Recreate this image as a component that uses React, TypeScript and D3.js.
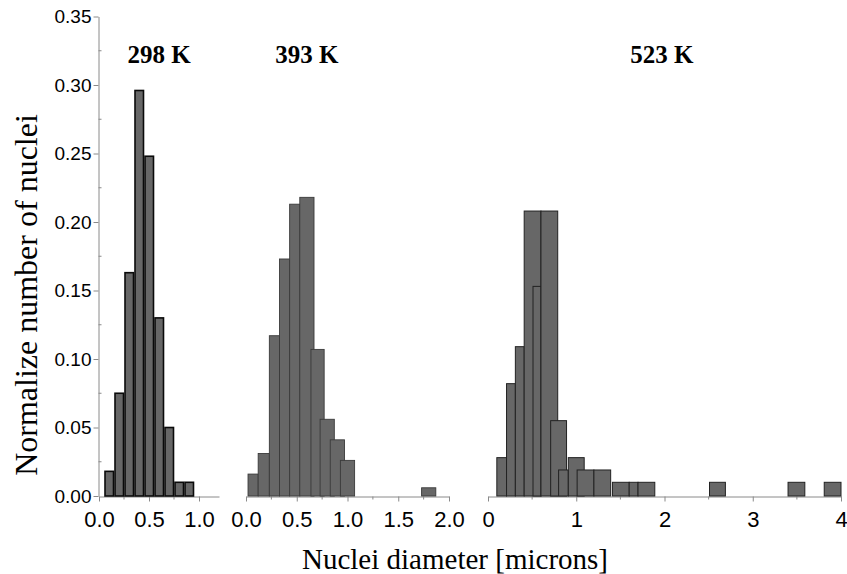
import { useEffect, useRef } from "react";
import * as d3 from "d3";

// 298 K histogram: bin centres (microns) and normalized counts
const p1Centers = [0.1, 0.2, 0.3, 0.4, 0.5, 0.6, 0.7, 0.8, 0.9];
const p1Values = [0.018, 0.075, 0.163, 0.296, 0.248, 0.13, 0.05, 0.01, 0.01];

// 393 K histogram: bin edges and values (bins overlap a bit in the original)
const p2Lo = [0.02, 0.12, 0.23, 0.33, 0.43, 0.53, 0.64, 0.73, 0.83, 0.93, 1.73];
const p2Hi = [0.12, 0.23, 0.33, 0.43, 0.53, 0.67, 0.77, 0.87, 0.97, 1.07, 1.87];
const p2Values = [0.016, 0.031, 0.117, 0.173, 0.213, 0.218, 0.107, 0.056, 0.041, 0.026, 0.006];

// 523 K histogram
const p3Lo = [0.1, 0.21, 0.31, 0.41, 0.51, 0.6, 0.71, 0.8, 0.91, 1.01, 1.2, 1.41, 1.6, 1.7, 2.51, 3.4, 3.81];
const p3Hi = [0.21, 0.31, 0.41, 0.6, 0.6, 0.79, 0.89, 0.91, 1.09, 1.2, 1.39, 1.6, 1.7, 1.89, 2.69, 3.59, 4.0];
const p3Values = [0.028, 0.082, 0.109, 0.208, 0.153, 0.208, 0.055, 0.019, 0.028, 0.019, 0.019, 0.01, 0.01, 0.01, 0.01, 0.01, 0.01];

const yTicks = [0, 0.05, 0.1, 0.15, 0.2, 0.25, 0.3, 0.35];
const yMinor = [0.025, 0.075, 0.125, 0.175, 0.225, 0.275, 0.325];
const p1Ticks = [0, 0.5, 1.0];
const p1Minor = [0.25, 0.75];
const p2Ticks = [0, 0.5, 1.0, 1.5, 2.0];
const p2Minor = [0.25, 0.75, 1.25, 1.75];
const p3Ticks = [0, 1, 2, 3, 4];
const p3Minor = [0.5, 1.5, 2.5, 3.5];

const titles = ["298 K", "393 K", "523 K"];

function App() {
  const ref = useRef<SVGSVGElement>(null);
  const width = 847;
  const height = 574;

  useEffect(() => {
    const svg = d3.select(ref.current);
    svg.selectAll("*").remove();

    const sans = "'Liberation Sans', Arial, sans-serif";
    const serif = "'Liberation Serif', 'Times New Roman', serif";
    const axisColor = "#8a8a8a";
    const barFill = "#676767";

    const y = d3.scaleLinear([0, 0.35], [496, 16.5]);
    const x1 = d3.scaleLinear([0, 1.2], [99, 219]);
    const x2 = d3.scaleLinear([0, 2], [246, 449]);
    const x3 = d3.scaleLinear([0, 4], [488, 841]);

    // y axis
    const yAxis = svg.append("g")
      .attr("transform", `translate(${x1(0) - 0.5},0)`)
      .call(d3.axisLeft(y).tickValues(yTicks).tickFormat(d3.format(".2f")).tickSize(5).tickSizeOuter(0).tickPadding(2));
    yAxis.select(".domain").attr("stroke", axisColor);
    yAxis.selectAll(".tick line").attr("stroke", axisColor);
    yAxis.selectAll("text").attr("font-family", sans).attr("font-size", 19).attr("fill", "#000");
    yAxis.selectAll(".minor")
      .data(yMinor)
      .join("line")
      .attr("x1", 0).attr("x2", 3)
      .attr("y1", d => y(d)).attr("y2", d => y(d))
      .attr("stroke", axisColor);

    const drawX = (x: d3.ScaleLinear<number, number>, ticks: number[], minor: number[], fmt: string) => {
      const g = svg.append("g")
        .attr("transform", `translate(0,${y(0) + 0.5})`)
        .call(d3.axisBottom(x).tickValues(ticks).tickFormat(d3.format(fmt)).tickSize(5).tickSizeOuter(0).tickPadding(10));
      g.select(".domain").attr("stroke", axisColor);
      g.selectAll(".tick line").attr("stroke", axisColor);
      g.selectAll("text").attr("font-family", sans).attr("font-size", 22).attr("fill", "#000");
      g.selectAll(".minor")
        .data(minor)
        .join("line")
        .attr("x1", d => x(d)).attr("x2", d => x(d))
        .attr("y1", 0).attr("y2", 3)
        .attr("stroke", axisColor);
    };
    drawX(x1, p1Ticks, p1Minor, ".1f");
    drawX(x2, p2Ticks, p2Minor, ".1f");
    drawX(x3, p3Ticks, p3Minor, "d");

    // 298 K bars, heavy black outline
    svg.append("g")
      .selectAll("rect")
      .data(p1Centers)
      .join("rect")
      .attr("x", d => x1(d - 0.05) + 1)
      .attr("width", d => x1(d + 0.05) - x1(d - 0.05) - 1.5)
      .attr("y", (d, i) => y(p1Values[i]))
      .attr("height", (d, i) => y(0) - y(p1Values[i]))
      .attr("fill", barFill)
      .attr("stroke", "#0a0a0a")
      .attr("stroke-width", 1.6);

    // 393 K bars
    svg.append("g")
      .selectAll("rect")
      .data(p2Lo)
      .join("rect")
      .attr("x", d => x2(d))
      .attr("width", (d, i) => x2(p2Hi[i]) - x2(d))
      .attr("y", (d, i) => y(p2Values[i]))
      .attr("height", (d, i) => y(0) - y(p2Values[i]))
      .attr("fill", barFill)
      .attr("stroke", "#3a3a3a")
      .attr("stroke-width", 0.9);

    // 523 K bars
    svg.append("g")
      .selectAll("rect")
      .data(p3Lo)
      .join("rect")
      .attr("x", d => x3(d))
      .attr("width", (d, i) => x3(p3Hi[i]) - x3(d))
      .attr("y", (d, i) => y(p3Values[i]))
      .attr("height", (d, i) => y(0) - y(p3Values[i]))
      .attr("fill", barFill)
      .attr("stroke", "#222")
      .attr("stroke-width", 1);

    // panel titles
    const titleX = [x1(0.6), x2(0.6), x3(1.97)];
    svg.append("g")
      .selectAll("text")
      .data(titles)
      .join("text")
      .attr("x", (d, i) => titleX[i])
      .attr("y", 63)
      .attr("text-anchor", "middle")
      .attr("font-family", serif)
      .attr("font-weight", "bold")
      .attr("font-size", 25)
      .text(d => d);

    // axis titles
    svg.append("text")
      .attr("transform", "translate(37,295) rotate(-90)")
      .attr("text-anchor", "middle")
      .attr("font-family", serif)
      .attr("font-size", 32)
      .text("Normalize number of nuclei");

    svg.append("text")
      .attr("x", 455)
      .attr("y", 569)
      .attr("text-anchor", "middle")
      .attr("font-family", serif)
      .attr("font-size", 29)
      .text("Nuclei diameter [microns]");
  }, []);

  return (
    <svg
      ref={ref}
      width={width}
      height={height}
      style={{ position: "absolute", left: 0, top: 0, background: "#fff" }}
    />
  );
}

export default App;
